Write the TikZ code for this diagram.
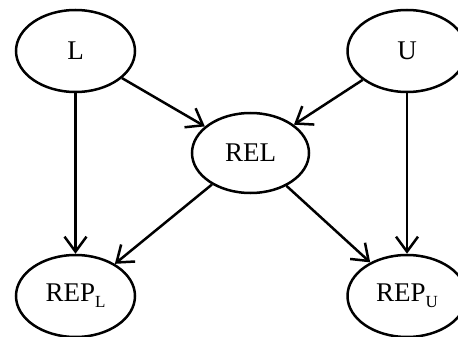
\documentclass[tikz,border=0pt]{standalone}
\usepackage{fontspec}
\setmainfont{Liberation Serif}
\usetikzlibrary{shapes.geometric,arrows.meta}
\newcommand{\mysub}[1]{\raisebox{-6pt}{\fontsize{17}{20}\selectfont #1}}
\begin{document}
\begin{tikzpicture}[x=1pt,y=-1pt,
  var/.style={ellipse,draw,line width=2.5pt,inner sep=0pt,minimum width=119pt,minimum height=82pt,font=\fontsize{27}{30}\selectfont},
  edge/.style={line width=2.5pt,-{Straight Barb[length=15pt,width=22pt,line width=2.5pt]}}]
\useasboundingbox (0,0) rectangle (458,337);
\node[var] (L) at (75.5,51) {L};
\node[var] (U) at (407,51) {U};
\node[var,minimum width=117pt,minimum height=80pt] (REL) at (250.5,153) {REL};
\node[var] (RL) at (75.5,296) {REP\mysub{L}};
\node[var] (RU) at (407,296) {REP\mysub{U}};
\draw[edge] (L) -- (REL);
\draw[edge] (U) -- (REL);
\draw[edge] (L) -- (RL);
\draw[edge] (U) -- (RU);
\draw[edge] (REL) -- (RL);
\draw[edge] (REL) -- (RU);
\end{tikzpicture}
\end{document}
